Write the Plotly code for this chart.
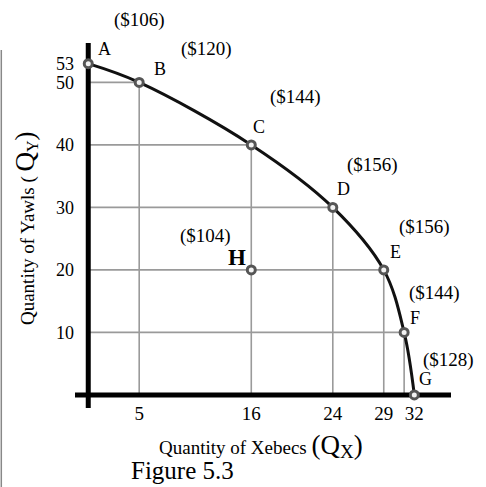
import plotly.graph_objects as go

# ---- data ----
point_names = ["A", "B", "C", "D", "E", "F", "G"]
qx = [0, 5, 16, 24, 29, 31, 32]
qy = [53, 50, 40, 30, 20, 10, 0]
costs = ["($106)", "($120)", "($144)", "($156)", "($156)", "($144)", "($128)"]
h_point = {"name": "H", "x": 16, "y": 20, "cost": "($104)"}
x_ticks = [5, 16, 24, 29, 32]
y_ticks = [10, 20, 30, 40, 50, 53]

SERIF = "Liberation Serif"
X_RANGE = [-1.3, 35.6]
Y_RANGE = [-2.1, 56.3]

fig = go.Figure()

# drop lines (gray) from interior points to the axes
gx, gy = [], []
for x, y in zip(qx[1:-1], qy[1:-1]):
    gx += [0, x, x, None]
    gy += [y, y, 0, None]
fig.add_trace(go.Scatter(x=gx, y=gy, mode="lines",
                         line=dict(color="#9a9a9a", width=1.6),
                         hoverinfo="skip", showlegend=False))

# thick black axes
fig.add_trace(go.Scatter(x=X_RANGE, y=[0, 0], mode="lines",
                         line=dict(color="black", width=5),
                         hoverinfo="skip", showlegend=False))
fig.add_trace(go.Scatter(x=[0, 0], y=Y_RANGE, mode="lines",
                         line=dict(color="black", width=5),
                         hoverinfo="skip", showlegend=False))

# PPF curve
fig.add_trace(go.Scatter(x=qx, y=qy, mode="lines",
                         line=dict(color="#111111", width=3, shape="spline", smoothing=1.0),
                         hoverinfo="skip", showlegend=False))

# markers
marker_style = dict(size=8, color="#f2f2f2", line=dict(color="#555555", width=3))
fig.add_trace(go.Scatter(x=qx + [h_point["x"]], y=qy + [h_point["y"]], mode="markers",
                         marker=marker_style, cliponaxis=False,
                         hoverinfo="skip", showlegend=False))

annotations = []
# letter label offsets (px right, px up) and cost label offsets
letter_off = [(16, 15), (21, 13), (8, 18), (11, 18), (12, 18), (11, 14), (11, 16)]
cost_off = [(51, 44), (67, 33), (44, 48), (40, 42), (41, 43), (30, 39), (34, 35)]
for name, x, y, c, lo, co in zip(point_names, qx, qy, costs, letter_off, cost_off):
    annotations.append(dict(x=x, y=y, xref="x", yref="y", text=name, showarrow=False,
                            xshift=lo[0], yshift=lo[1],
                            font=dict(family=SERIF, size=18, color="black")))
    annotations.append(dict(x=x, y=y, xref="x", yref="y", text=c, showarrow=False,
                            xshift=co[0], yshift=co[1],
                            font=dict(family=SERIF, size=19, color="black")))
annotations.append(dict(x=h_point["x"], y=h_point["y"], xref="x", yref="y",
                        text="<b>" + h_point["name"] + "</b>", showarrow=False,
                        xshift=-14, yshift=12,
                        font=dict(family=SERIF, size=23, color="black")))
annotations.append(dict(x=h_point["x"], y=h_point["y"], xref="x", yref="y",
                        text=h_point["cost"], showarrow=False,
                        xshift=-46, yshift=34,
                        font=dict(family=SERIF, size=19, color="black")))

# axis titles and caption
annotations.append(dict(x=0.495, y=-0.105, xref="paper", yref="paper", showarrow=False,
                        xanchor="center", yanchor="middle",
                        text="Quantity of Xebecs <span style='font-size:27px'>(Q</span><sub><span style='font-size:19px'>X</span></sub><span style='font-size:27px'>)</span>",
                        font=dict(family=SERIF, size=19, color="black")))
annotations.append(dict(x=-0.133, y=0.493, xref="paper", yref="paper", showarrow=False,
                        xanchor="center", yanchor="middle",
                        textangle=-90,
                        text="Quantity of Yawls ( <span style='font-size:27px'>Q</span><sub><span style='font-size:16px'>Y</span></sub><span style='font-size:27px'>)</span>",
                        font=dict(family=SERIF, size=19, color="black")))
annotations.append(dict(x=0.287, y=-0.172, xref="paper", yref="paper", showarrow=False,
                        xanchor="center", yanchor="middle",
                        text="Figure 5.3",
                        font=dict(family=SERIF, size=25, color="black")))

fig.update_layout(
    width=486, height=487,
    margin=dict(l=75, r=35, t=43, b=79),
    paper_bgcolor="white", plot_bgcolor="white",
    showlegend=False,
    annotations=annotations,
    shapes=[dict(type="line", xref="paper", yref="paper",
                 x0=-0.196, x1=-0.196, y0=0.981, y1=-0.3,
                 line=dict(color="#888888", width=1.5))],
)
fig.update_xaxes(range=X_RANGE, showgrid=False, zeroline=False, showline=False,
                 automargin=False,
                 tickmode="array", tickvals=x_ticks, ticks="",
                 ticklabelstandoff=-8,
                 tickfont=dict(family=SERIF, size=19, color="black"))
fig.update_yaxes(range=Y_RANGE, showgrid=False, zeroline=False, showline=False,
                 automargin=False,
                 tickmode="array", tickvals=y_ticks, ticks="",
                 tickfont=dict(family=SERIF, size=18, color="black"))

fig.write_html("out.html", config={"displayModeBar": False},
               post_script="document.body.style.margin='0';document.body.style.overflow='hidden';")
